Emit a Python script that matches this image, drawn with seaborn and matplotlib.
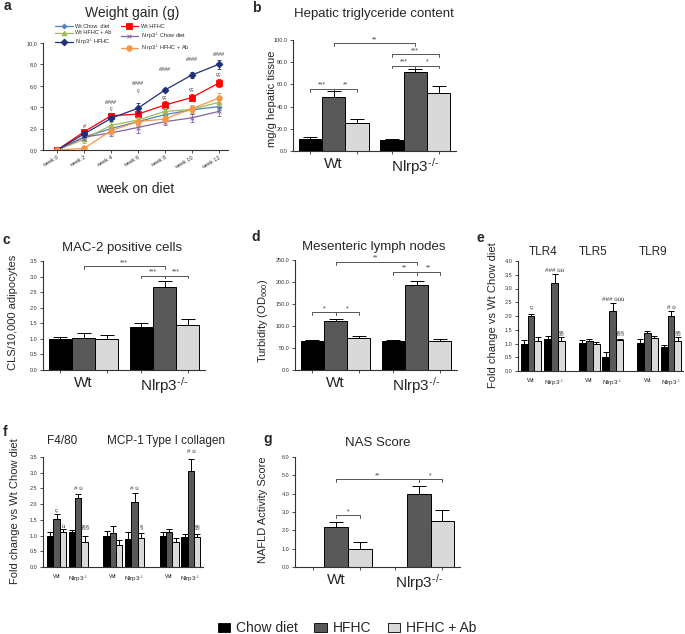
# -*- coding: utf-8 -*-
import numpy as np
import pandas as pd
import seaborn as sns
import matplotlib
matplotlib.use('Agg')
from matplotlib import pyplot as plt
from matplotlib.colors import to_rgba
from matplotlib.patches import Patch
from matplotlib.ticker import FuncFormatter, MultipleLocator

sns.set_style('ticks')
plt.rcParams['font.family'] = ['Liberation Sans', 'DejaVu Sans']
plt.rcParams['mathtext.fontset'] = 'custom'
plt.rcParams['mathtext.rm'] = 'Liberation Sans'
plt.rcParams['mathtext.it'] = 'Liberation Sans:italic'
plt.rcParams['mathtext.bf'] = 'Liberation Sans:bold'

KO = r'Nlrp3$^{\text{-/-}}$'
diets = ['Chow diet', 'HFHC', 'HFHC + Ab']
diet_colors = {'Chow diet': '#000000', 'HFHC': '#595959', 'HFHC + Ab': '#d9d9d9'}
genotypes = ['Wt', KO]

# ---- a: weight gain (g)
weeks = [0, 2, 4, 6, 8, 10, 12]
week_labels = ['week 0', 'week 2', 'week 4', 'week 6', 'week 8', 'week 10', 'week 12']
series_names = ['Wt Chow  diet', 'Wt HFHC', 'Wt HFHC + Ab',
                KO + ' Chow diet', KO + ' HFHC', KO + ' HFHC + Ab']
wt_chow_gain = [0.0, 1.2, 2.0, 2.65, 3.3, 3.75, 4.05]
wt_hfhc_gain = [0.0, 1.7, 3.2, 3.35, 4.2, 4.9, 6.25]
wt_ab_gain = [0.0, 1.0, 2.3, 2.8, 3.6, 3.8, 4.45]
ko_chow_gain = [0.0, 1.2, 1.6, 2.1, 2.65, 3.0, 3.6]
ko_hfhc_gain = [0.0, 1.5, 2.95, 3.9, 5.6, 7.0, 8.0]
ko_ab_gain = [0.0, 0.15, 1.8, 2.65, 2.9, 3.85, 4.85]
wt_chow_err = [0.0, 0.3, 0.3, 0.3, 0.3, 0.35, 0.35]
wt_hfhc_err = [0.0, 0.2, 0.25, 0.3, 0.35, 0.35, 0.35]
wt_ab_err = [0.0, 0.35, 0.3, 0.3, 0.3, 0.3, 0.3]
ko_chow_err = [0.0, 0.3, 0.3, 0.5, 0.35, 0.4, 0.45]
ko_hfhc_err = [0.0, 0.3, 0.2, 0.45, 0.2, 0.3, 0.45]
ko_ab_err = [0.0, 0.1, 0.35, 0.3, 0.3, 0.35, 0.45]
# (week, y, text)
gain_marks = [(2, 2.2, '#'), (4, 4.4, '####'), (4, 3.85, 'ç'), (6, 6.2, '####'), (6, 5.6, 'ç'),
              (8, 7.5, '####'), (8, 4.9, 'çç'), (10, 8.45, '####'), (10, 5.7, 'çç'),
              (12, 8.9, '####'), (12, 7.1, 'çç')]

# ---- b: hepatic triglyceride (mg/g)
tg_wt = [11.0, 48.8, 25.3]
tg_wt_err = [1.5, 5.0, 3.5]
tg_ko = [9.6, 70.8, 52.0]
tg_ko_err = [1.5, 3.2, 6.5]
tg_brackets = [(0, 'Chow diet', 0, 'HFHC', 56, '***'), (0, 'HFHC', 0, 'HFHC + Ab', 56, '**'),
               (0, 'HFHC', 1, 'HFHC', 97, '**'), (1, 'Chow diet', 1, 'HFHC', 77, '***'),
               (1, 'HFHC', 1, 'HFHC + Ab', 77, '*'), (1, 'Chow diet', 1, 'HFHC + Ab', 87, '***')]

# ---- c: MAC-2 positive cells
mac_wt = [1.0, 1.04, 1.0]
mac_wt_err = [0.07, 0.14, 0.11]
mac_ko = [1.39, 2.68, 1.46]
mac_ko_err = [0.12, 0.18, 0.18]
mac_brackets = [(0, 'HFHC', 1, 'HFHC', 3.34, '***'), (1, 'Chow diet', 1, 'HFHC', 3.03, '***'),
                (1, 'HFHC', 1, 'HFHC + Ab', 3.03, '***')]

# ---- d: mesenteric lymph nodes
mln_wt = [65.0, 111.0, 73.0]
mln_wt_err = [3.0, 5.5, 5.0]
mln_ko = [65.0, 194.0, 65.0]
mln_ko_err = [3.0, 9.0, 5.0]
mln_brackets = [(0, 'Chow diet', 0, 'HFHC', 131, '*'), (0, 'HFHC', 0, 'HFHC + Ab', 131, '*'),
                (0, 'HFHC', 1, 'HFHC', 246, '**'), (1, 'Chow diet', 1, 'HFHC', 223, '**'),
                (1, 'HFHC', 1, 'HFHC + Ab', 223, '**')]

# ---- e: TLR expression
tlr_genes = ['TLR4', 'TLR5', 'TLR9']
tlr4_wt = [1.0, 2.0, 1.1]
tlr4_wt_err = [0.12, 0.08, 0.13]
tlr4_ko = [1.17, 3.2, 1.1]
tlr4_ko_err = [0.09, 0.33, 0.12]
tlr5_wt = [1.02, 1.08, 1.0]
tlr5_wt_err = [0.1, 0.1, 0.07]
tlr5_ko = [0.52, 2.2, 1.12]
tlr5_ko_err = [0.16, 0.28, 0.06]
tlr9_wt = [1.02, 1.4, 1.2]
tlr9_wt_err = [0.13, 0.05, 0.06]
tlr9_ko = [0.87, 2.0, 1.1]
tlr9_ko_err = [0.06, 0.18, 0.12]
# (gene, genotype, diet, y, text)
tlr_marks = [(0, 0, 'HFHC', 2.3, 'ç'), (0, 1, 'HFHC', 3.65, '### ùù'), (0, 1, 'HFHC + Ab', 1.37, '§§'),
             (1, 1, 'HFHC', 2.6, '### ùùù'), (1, 1, 'HFHC + Ab', 1.37, '§§§'),
             (2, 1, 'HFHC', 2.3, '# ù'), (2, 1, 'HFHC + Ab', 1.37, '§§')]

# ---- f: F4/80, MCP-1, type I collagen
inf_genes = ['F4/80', 'MCP-1', 'Type I collagen']
f480_wt = [0.99, 1.53, 1.1]
f480_wt_err = [0.13, 0.15, 0.1]
f480_ko = [1.11, 2.2, 0.81]
f480_ko_err = [0.06, 0.13, 0.17]
mcp1_wt = [1.0, 1.09, 0.71]
mcp1_wt_err = [0.14, 0.21, 0.16]
mcp1_ko = [0.9, 2.07, 0.91]
mcp1_ko_err = [0.2, 0.28, 0.16]
col1_wt = [1.0, 1.11, 0.78]
col1_wt_err = [0.1, 0.09, 0.14]
col1_ko = [0.97, 3.05, 0.94]
col1_ko_err = [0.07, 0.39, 0.12]
inf_marks = [(0, 0, 'HFHC', 1.8, 'ç'), (0, 0, 'HFHC + Ab', 1.3, 'ù'), (0, 1, 'HFHC', 2.5, '# ù'),
             (0, 1, 'HFHC + Ab', 1.28, '§§§'), (1, 1, 'HFHC', 2.5, '# ù'), (1, 1, 'HFHC + Ab', 1.28, '§'),
             (2, 1, 'HFHC', 3.68, '# ù'), (2, 1, 'HFHC + Ab', 1.28, '§§')]

# ---- g: NAS score (no chow group)
nas_wt = [np.nan, 2.16, 1.0]
nas_wt_err = [np.nan, 0.3, 0.37]
nas_ko = [np.nan, 4.0, 2.5]
nas_ko_err = [np.nan, 0.4, 0.6]
nas_brackets = [(0, 'HFHC', 0, 'HFHC + Ab', 2.83, '*'), (0, 'HFHC', 1, 'HFHC', 4.79, '**'),
                (1, 'HFHC', 1, 'HFHC + Ab', 4.79, '*')]

W, H = 685, 634
fig = plt.figure(figsize=(W / 100, H / 100), dpi=100)


def axes_px(left, top, right, bottom):
    return fig.add_axes([left / W, 1 - bottom / H, (right - left) / W, (bottom - top) / H])


def style_axes(ax, ymax, ystep, fmt):
    sns.despine(ax=ax)
    ax.set_ylim(0, ymax)
    ax.yaxis.set_major_locator(MultipleLocator(ystep))
    ax.yaxis.set_major_formatter(FuncFormatter(fmt))
    ax.tick_params(axis='y', labelsize=4, length=2.5, width=0.6, pad=1.5, colors='#333333')
    for s in ['left', 'bottom']:
        ax.spines[s].set_linewidth(0.8)
        ax.spines[s].set_color('#333333')
    ax.set_xlabel('')
    ax.set_ylabel('')


def bar_frame(groups, step=None):
    rows = []
    for slot, (vals, errs) in enumerate(groups):
        for diet, v, e in zip(diets, vals, errs):
            row = {'slot': slot, 'group': genotypes[slot % 2], 'diet': diet, 'value': v, 'err': e}
            if step is not None:
                row['pos'] = (slot // 2) * step + slot % 2
            rows.append(row)
    return pd.DataFrame(rows)


def draw_bars(ax, df, width, native=False, capsize=4):
    if native:
        sns.barplot(data=df, x='pos', y='value', hue='diet', hue_order=diets, palette=diet_colors,
                    native_scale=True, width=width, saturation=1, edgecolor='black',
                    linewidth=0.7, errorbar=None, legend=False, ax=ax)
    else:
        sns.barplot(data=df, x='group', y='value', hue='diet', hue_order=diets, order=genotypes,
                    palette=diet_colors, width=width, saturation=1, edgecolor='black',
                    linewidth=0.7, errorbar=None, legend=False, ax=ax)
    centers = {}
    for cont in ax.containers:
        if len(cont) == 0:
            continue
        face = cont[0].get_facecolor()
        diet = [d for d in diets if np.allclose(to_rgba(diet_colors[d]), face)][0]
        for slot, bar in enumerate(cont):
            centers[(slot, diet)] = bar.get_x() + bar.get_width() / 2
    ok = df['value'].notna()
    xs = [centers[(s, d)] for s, d in zip(df['slot'][ok], df['diet'][ok])]
    ax.errorbar(xs, df['value'][ok], yerr=[np.zeros(ok.sum()), df['err'][ok]], fmt='none',
                ecolor='black', elinewidth=0.7, capsize=capsize, capthick=0.7, zorder=3)
    return centers


def bracket(ax, x1, x2, y, label, drop):
    ax.plot([x1, x1, x2, x2], [y - drop, y, y, y - drop], color='#555555', lw=0.7, clip_on=False)
    ax.text((x1 + x2) / 2, y, label, ha='center', va='bottom', fontsize=5, color='#444444')


def two_group_panel(ax, groups, ymax, ystep, brackets):
    df = bar_frame(groups)
    centers = draw_bars(ax, df, 0.86, capsize=5)
    style_axes(ax, ymax, ystep, lambda v, p: '%.1f' % v)
    ax.set_xlim(-0.5, 1.5)
    ax.set_xticks([0, 1])
    ax.set_xticklabels(genotypes, fontsize=11)
    ax.tick_params(axis='x', which='major', length=0, pad=4)
    minor = []
    for slot in range(2):
        c = [centers.get((slot, d)) for d in diets]
        if c[0] is None:
            c[0] = 2 * c[1] - c[2]
        minor += c
    ax.set_xticks(minor, minor=True)
    ax.tick_params(axis='x', which='minor', length=2.5, width=0.6, colors='#333333')
    drop = 0.025 * ymax
    for s1, d1, s2, d2, y, lab in brackets:
        bracket(ax, centers[(s1, d1)], centers[(s2, d2)], y, lab, drop)


def gene_panel(ax, groups, step, xmin, xmax, ymax, marks):
    df = bar_frame(groups, step)
    centers = draw_bars(ax, df, 0.88, native=True, capsize=2)
    style_axes(ax, ymax, 0.5, lambda v, p: '%.1f' % v)
    pos = sorted(df['pos'].unique())
    ax.set_xlim(xmin, pos[-1] + xmax)
    ax.set_xticks(pos)
    ax.set_xticklabels(genotypes * 3, fontsize=4.5)
    ax.tick_params(axis='x', length=0, pad=5)
    for gene, geno, diet, y, txt in marks:
        ax.text(centers[(gene * 2 + geno, diet)], y, txt, ha='center', va='center',
                fontsize=4.5, color='#333333')


# ---- panel a
ax_a = axes_px(43, 43, 228, 150)
series_gain = [wt_chow_gain, wt_hfhc_gain, wt_ab_gain, ko_chow_gain, ko_hfhc_gain, ko_ab_gain]
series_err = [wt_chow_err, wt_hfhc_err, wt_ab_err, ko_chow_err, ko_hfhc_err, ko_ab_err]
series_colors = ['#4f81bd', '#ff0000', '#9bbb59', '#8064a2', '#1f2f78', '#f79646']
series_markers = ['D', 's', '^', 'x', 'D', 'o']
series_msize = [2.5, 4.5, 3.5, 3.5, 3.5, 4]
for name, vals, errs, col, mk, ms in zip(series_names, series_gain, series_err,
                                         series_colors, series_markers, series_msize):
    sns.lineplot(x=weeks, y=vals, color=col, marker=mk, markersize=ms, markeredgecolor=col,
                 markeredgewidth=0.6, linewidth=0.9, label=name, ax=ax_a)
    ax_a.errorbar(weeks, vals, yerr=errs, fmt='none', ecolor=col, elinewidth=0.6,
                  capsize=1.5, capthick=0.6)
style_axes(ax_a, 10, 2, lambda v, p: ('%.1f' % v).replace('.', ','))
ax_a.set_xlim(-1.05, 12.7)
ax_a.set_xticks(weeks)
ax_a.set_xticklabels(week_labels, rotation=30, ha='right', rotation_mode='anchor', fontsize=4)
ax_a.tick_params(axis='x', length=2, width=0.6, pad=1.5, colors='#333333')
ax_a.set_xlabel('week on diet', fontsize=10, labelpad=9)
for wk, y, txt in gain_marks:
    ax_a.text(wk, y, txt, ha='center', va='center', fontsize=4, color='#333333')
handles, labels = ax_a.get_legend_handles_labels()
order = [0, 2, 4, 1, 3, 5]
ax_a.legend([handles[i] for i in order], [labels[i] for i in order], ncol=2, fontsize=4,
            frameon=False, handlelength=3.2, columnspacing=1.6, labelspacing=0.3,
            handletextpad=0.5, loc='upper left', bbox_to_anchor=(52 / W, 1 - 21 / H),
            bbox_transform=fig.transFigure, borderpad=0)

# ---- panels b, c, d, g
ax_b = axes_px(293, 40, 456, 151)
two_group_panel(ax_b, [(tg_wt, tg_wt_err), (tg_ko, tg_ko_err)], 100, 20, tg_brackets)
ax_c = axes_px(43, 261, 205, 370)
two_group_panel(ax_c, [(mac_wt, mac_wt_err), (mac_ko, mac_ko_err)], 3.5, 0.5, mac_brackets)
ax_d = axes_px(295, 260, 457, 370)
two_group_panel(ax_d, [(mln_wt, mln_wt_err), (mln_ko, mln_ko_err)], 250, 50, mln_brackets)
ax_g = axes_px(295, 457, 460, 567)
two_group_panel(ax_g, [(nas_wt, nas_wt_err), (nas_ko, nas_ko_err)], 6, 1, nas_brackets)

# ---- panels e, f
ax_e = axes_px(518, 261, 683, 371)
gene_panel(ax_e, [(tlr4_wt, tlr4_wt_err), (tlr4_ko, tlr4_ko_err), (tlr5_wt, tlr5_wt_err),
                  (tlr5_ko, tlr5_ko_err), (tlr9_wt, tlr9_wt_err), (tlr9_ko, tlr9_ko_err)],
           2.47, -0.55, 0.51, 4.0, tlr_marks)
ax_f = axes_px(43, 457, 203, 567)
gene_panel(ax_f, [(f480_wt, f480_wt_err), (f480_ko, f480_ko_err), (mcp1_wt, mcp1_wt_err),
                  (mcp1_ko, mcp1_ko_err), (col1_wt, col1_wt_err), (col1_ko, col1_ko_err)],
           2.6, -0.63, 0.56, 3.5, inf_marks)


def ftext(x, y, s, **kw):
    fig.text(x / W, 1 - y / H, s, ha='center', va='center', **kw)


# titles, panel letters, y labels
ftext(132, 13, 'Weight gain (g)', fontsize=10)
ftext(374, 14, 'Hepatic triglyceride content', fontsize=9.5)
ftext(122, 248, 'MAC-2 positive cells', fontsize=9.5)
ftext(374, 247, 'Mesenteric lymph nodes', fontsize=9.5)
ftext(378, 443, 'NAS Score', fontsize=9.5)
for x, g in zip([543, 593, 653], tlr_genes):
    ftext(x, 252, g, fontsize=8.5)
for x, g in zip([62, 125, 185], inf_genes):
    ftext(x, 441, g, fontsize=8.5)
for x, y, s in [(7, 6, 'a'), (256, 8, 'b'), (6, 240, 'c'), (256, 237, 'd'),
                (480, 238, 'e'), (5, 432, 'f'), (268, 439, 'g')]:
    ftext(x, y, s, fontsize=10, fontweight='bold')
for x, y, s in [(272, 99, 'mg/g hepatic tissue'), (13, 312, 'CLS/10,000 adipocytes'),
                (263, 321, r'Turbidity (OD$_{600}$)'), (493, 315, 'Fold change vs Wt Chow diet'),
                (15, 511, 'Fold change vs Wt Chow diet'), (263, 510, 'NAFLD Activity Score')]:
    ftext(x, y, s, fontsize=8, rotation=90)

legend_handles = [Patch(facecolor=diet_colors[d], edgecolor='black', linewidth=0.6, label=d)
                  for d in diets]
fig.legend(handles=legend_handles, loc='center', bbox_to_anchor=(347 / W, 1 - 628 / H), ncol=3,
           frameon=False, fontsize=10, handlelength=0.9, handleheight=0.6, handletextpad=0.4,
           columnspacing=1.2)

fig.savefig('out.png', dpi=100)
